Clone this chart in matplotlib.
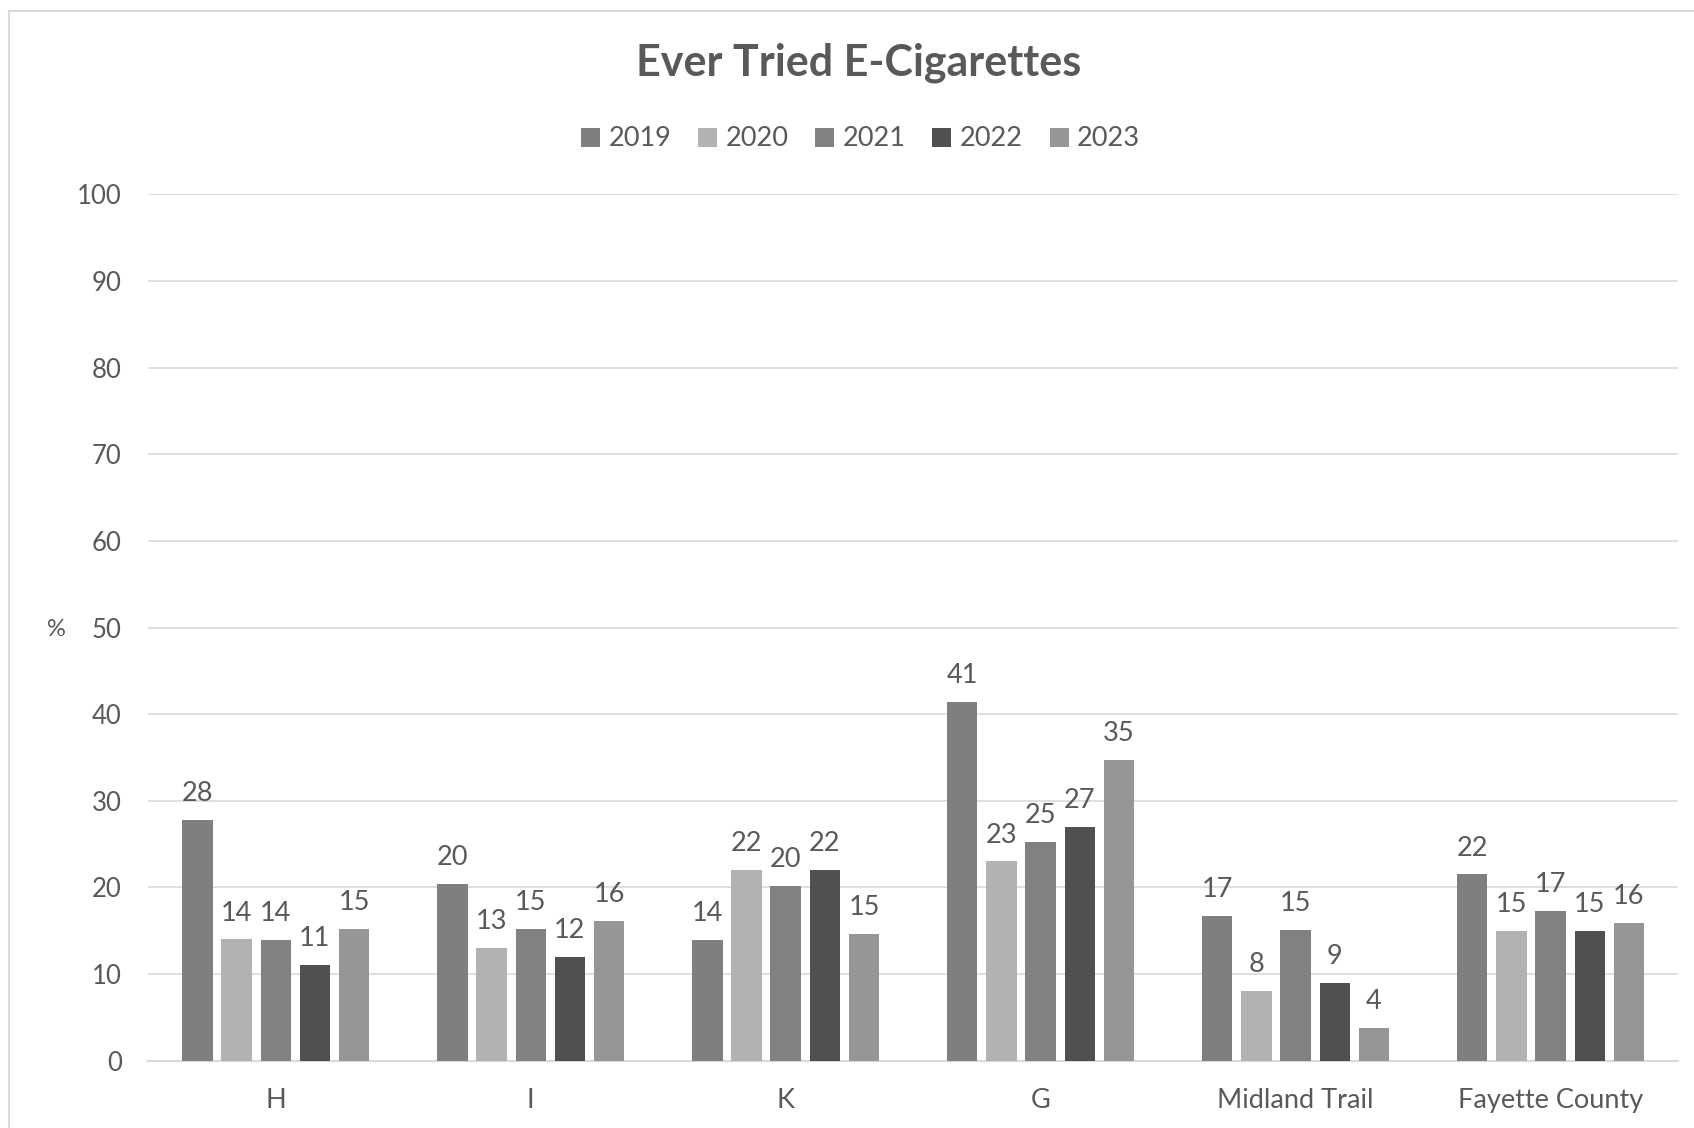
import numpy as np
import matplotlib
matplotlib.use("Agg")
import matplotlib.pyplot as plt
from matplotlib.patches import Rectangle

plt.rcParams["font.family"] = ["Lato", "DejaVu Sans"]

categories = ["H", "I", "K", "G", "Midland Trail", "Fayette County"]
years = ["2019", "2020", "2021", "2022", "2023"]
v2019 = [27.8, 20.4, 13.9, 41.4, 16.7, 21.5]
v2020 = [14.0, 13.0, 22.0, 23.0, 8.0, 15.0]
v2021 = [13.9, 15.2, 20.2, 25.3, 15.1, 17.3]
v2022 = [11.0, 12.0, 22.0, 27.0, 9.0, 15.0]
v2023 = [15.2, 16.1, 14.6, 34.7, 3.8, 15.9]
colors = ["#7f7f7f", "#b2b2b2", "#818181", "#505050", "#969696"]
TXT = "#595959"

fig = plt.figure(figsize=(16.94, 11.28), dpi=100)
ax = fig.add_axes([0.0875, 0.0597, 0.9031, 0.7679])
fig.patches.append(Rectangle((9 / 1694, -0.1), 1.2, 1 - 11 / 1128 + 0.1, transform=fig.transFigure,
                             fill=False, edgecolor="#d9d9d9", lw=1.5))

x = np.arange(len(categories))
pitch, width = 0.1536, 0.119
for i, (yr, vals) in enumerate(zip(years, [v2019, v2020, v2021, v2022, v2023])):
    xs = x + (i - 2) * pitch
    ax.bar(xs, vals, width, color=colors[i], label=yr, zorder=3)
    for xx, v in zip(xs, vals):
        ax.annotate(f"{v:.0f}", (xx, v), xytext=(0, 10), textcoords="offset points",
                    ha="center", va="bottom", fontsize=19.5, color=TXT)

ax.set_xlim(-0.5, 5.5)
ax.set_ylim(0, 100)
ax.set_yticks(np.arange(0, 101, 10))
ax.set_xticks(x)
ax.set_xticklabels(categories)
ax.grid(axis="y", color="#d9d9d9", lw=1.2, zorder=0)
for s in ["top", "right", "left"]:
    ax.spines[s].set_visible(False)
ax.spines["bottom"].set_color("#d9d9d9")
ax.spines["bottom"].set_linewidth(1.5)
ax.tick_params(axis="x", length=0, labelsize=19.5, colors=TXT, pad=20)
ax.tick_params(axis="y", length=0, labelsize=18.5, colors=TXT, pad=19)
fig.text(56 / 1694, 1 - 629 / 1128, "%", fontsize=17, color=TXT, ha="center", va="center")

fig.text(0.507, 1 - 63 / 1128, "Ever Tried E-Cigarettes", fontsize=31, fontweight="bold",
         color=TXT, ha="center", va="center")
fig.legend(loc="center", bbox_to_anchor=(0.508, 1 - 139 / 1128), ncol=5, frameon=False,
           fontsize=19.5, handlelength=0.7, handleheight=0.7, handletextpad=0.3, columnspacing=1.0,
           labelcolor=TXT)

fig.savefig("out.png", dpi=100)
